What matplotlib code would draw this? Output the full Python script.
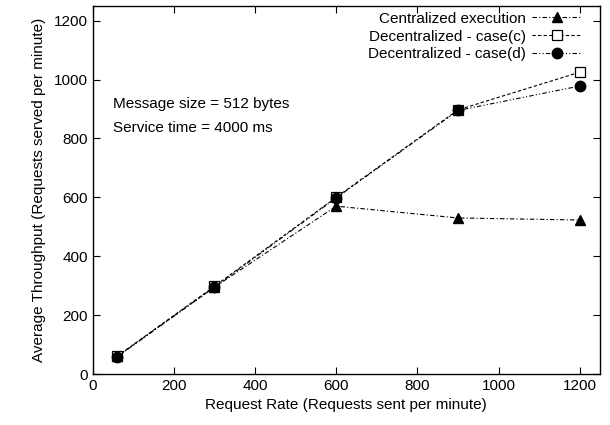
import matplotlib
matplotlib.use("Agg")
import matplotlib.pyplot as plt

plt.rcParams['font.family'] = ['Liberation Sans', 'DejaVu Sans']

request_rate = [60, 300, 600, 900, 1200]
centralized = [60, 295, 570, 530, 523]
decentral_c = [60, 298, 600, 897, 1025]
decentral_d = [58, 295, 598, 895, 978]

labels = ["Centralized execution", "Decentralized - case(c)", "Decentralized - case(d)"]
x_ticks = [0, 200, 400, 600, 800, 1000, 1200]
y_ticks = [0, 200, 400, 600, 800, 1000, 1200]

fs = 11
fig = plt.figure(figsize=(6.1, 4.25), dpi=100)
ax = fig.add_axes([0.152, 0.12, 0.8316, 0.866])

ax.plot(request_rate, centralized, color='black', lw=0.8, dashes=(4, 2, 1, 2),
        marker='^', markersize=7, markerfacecolor='black', label=labels[0])
ax.plot(request_rate, decentral_c, color='black', lw=0.8, dashes=(3, 2),
        marker='s', markersize=7.5, markerfacecolor='white', markeredgewidth=0.9, label=labels[1])
ax.plot(request_rate, decentral_d, color='black', lw=0.8, dashes=(4, 2, 1, 2, 1, 2),
        marker='o', markersize=7.5, markerfacecolor='black', label=labels[2])

ax.set_xlim(0, 1250)
ax.set_ylim(0, 1250)
ax.set_xticks(x_ticks)
ax.set_yticks(y_ticks)
ax.tick_params(direction='in', top=True, right=True, length=5, width=0.8, labelsize=fs)
for s in ax.spines.values():
    s.set_linewidth(1.0)

ax.set_xlabel("Request Rate (Requests sent per minute)", fontsize=fs, labelpad=4)
ax.set_ylabel("Average Throughput (Requests served per minute)", fontsize=fs, labelpad=6)

ax.text(50, 917, "Message size = 512 bytes", fontsize=fs, va='center', ha='left')
ax.text(50, 836, "Service time = 4000 ms", fontsize=fs, va='center', ha='left')

ax.legend(loc='upper right', bbox_to_anchor=(0.963, 0.984), frameon=False,
          markerfirst=False, fontsize=fs, handlelength=3.2, handletextpad=0.4,
          labelspacing=0.25, borderaxespad=0, borderpad=0)

fig.savefig("out.png", dpi=100)
